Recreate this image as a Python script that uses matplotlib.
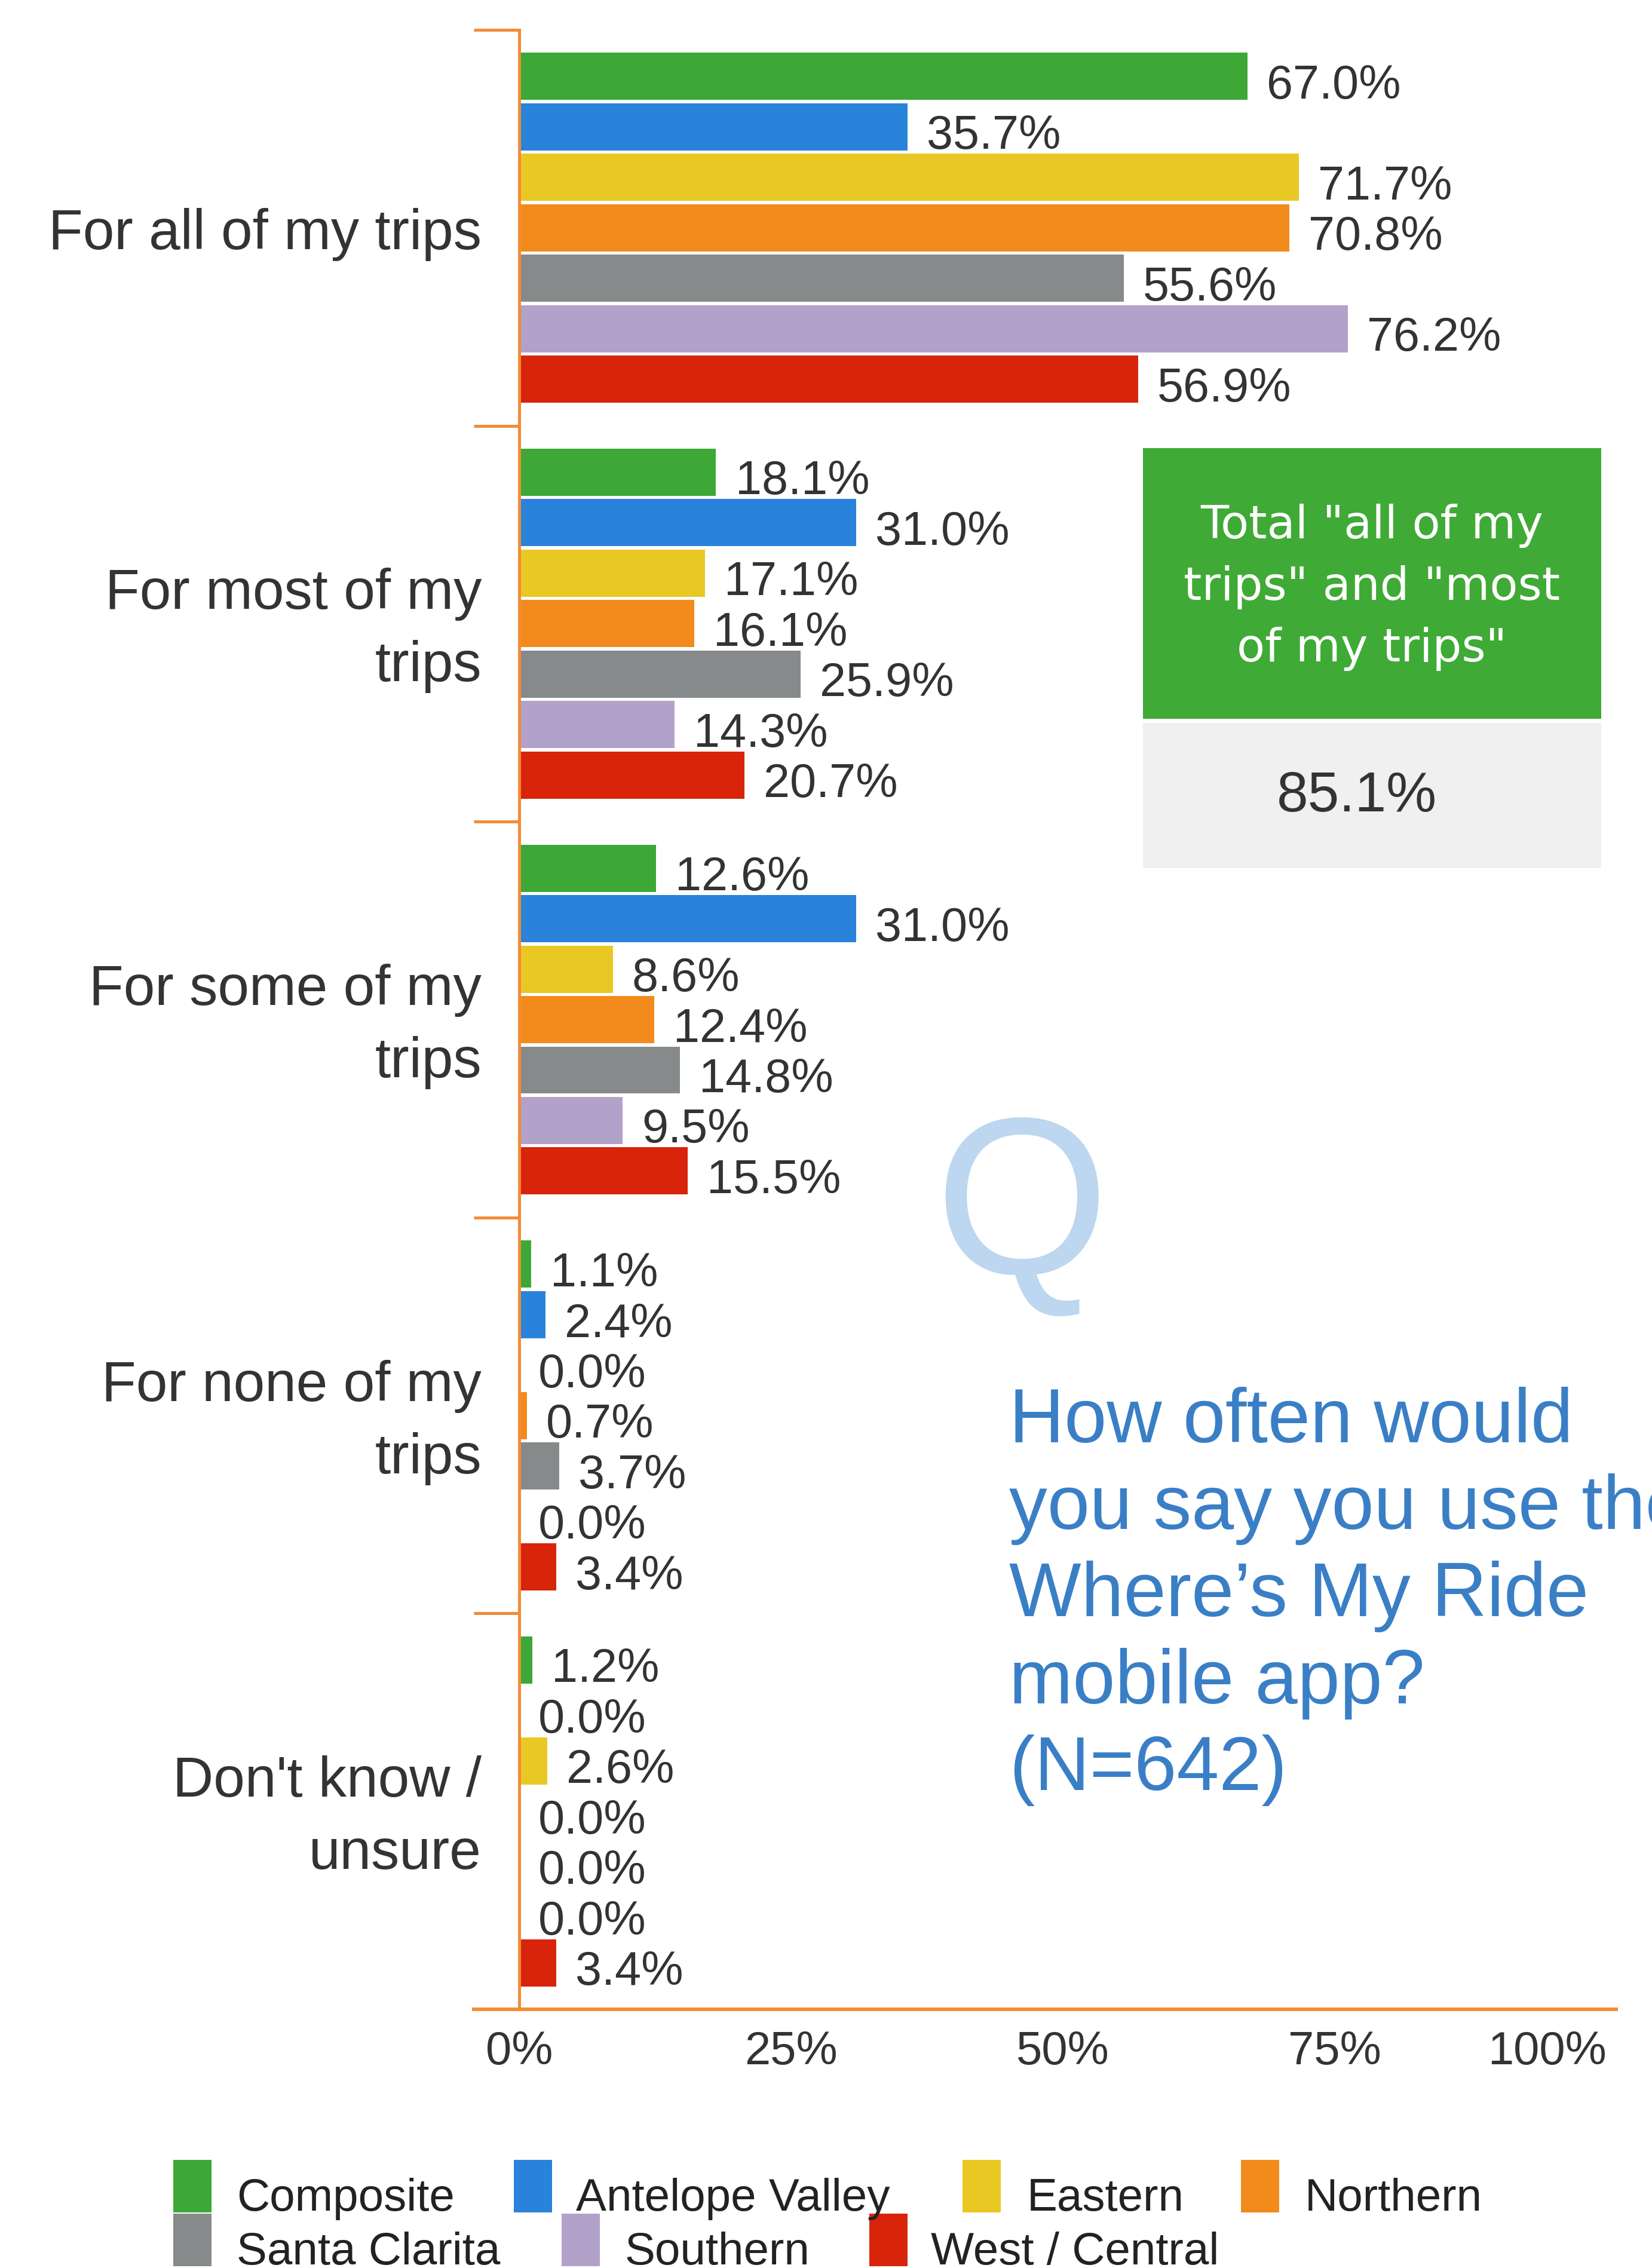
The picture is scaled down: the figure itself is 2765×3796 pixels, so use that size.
import matplotlib
matplotlib.use("Agg")
import matplotlib.pyplot as plt
from matplotlib.patches import Rectangle
import numpy as np

plt.rcParams['font.family'] = ['Liberation Sans', 'DejaVu Sans']

# ---- data -------------------------------------------------------------
categories = [
    ["For all of my trips"],
    ["For most of my", "trips"],
    ["For some of my", "trips"],
    ["For none of my", "trips"],
    ["Don't know /", "unsure"],
]
series_names = ["Composite", "Antelope Valley", "Eastern", "Northern",
                "Santa Clarita", "Southern", "West / Central"]
composite = [67.0, 18.1, 12.6, 1.1, 1.2]
antelope_valley = [35.7, 31.0, 31.0, 2.4, 0.0]
eastern = [71.7, 17.1, 8.6, 0.0, 2.6]
northern = [70.8, 16.1, 12.4, 0.7, 0.0]
santa_clarita = [55.6, 25.9, 14.8, 3.7, 0.0]
southern = [76.2, 14.3, 9.5, 0.0, 0.0]
west_central = [56.9, 20.7, 15.5, 3.4, 3.4]
series_values = [composite, antelope_valley, eastern, northern,
                 santa_clarita, southern, west_central]
x_ticks = [0, 25, 50, 75, 100]
x_tick_labels = ["0%", "25%", "50%", "75%", "100%"]
total_label = ['Total "all of my', 'trips" and "most', 'of my trips"']
total_value = "85.1%"
question_lines = ["How often would", "you say you use the",
                  "Where\u2019s My Ride", "mobile app?", "(N=642)"]

# ---- styling ----------------------------------------------------------
colors = ["#3ea836", "#2a83da", "#e9c823", "#f28b1c",
          "#878a8b", "#b2a2c9", "#d8240a"]
axis_color = "#f28c38"
text_color = "#333333"

W, H = 2765, 3796
fig = plt.figure(figsize=(W / 100, H / 100), dpi=100)


def fx(px):
    return px / W


def fy(py):
    return 1 - py / H


ax = fig.add_axes([fx(793), fy(3363), (2705 - 793) / W, (3363 - 50) / H])
ax.set_xlim(-4.18, 100.88)
ax.set_ylim(4.5, -0.5)

band_px = (3363 - 50) / 5.0
pitch = 84.5 / band_px
bar_h = 79.0 / band_px
y = np.arange(len(categories))

for j, (vals, col) in enumerate(zip(series_values, colors)):
    pos = y + (j - 3) * pitch
    ax.barh(pos, vals, height=bar_h, color=col, left=0, zorder=1)
    for yy, v in zip(pos, vals):
        ax.text(v + 1.76, yy + 37.0 / band_px, f"{v:.1f}%",
                ha="left", va="baseline", fontsize=57, color=text_color)

# category labels to the left of the axis
for i, lines in enumerate(categories):
    n = len(lines)
    for k, line in enumerate(lines):
        off = (k - (n - 1) / 2) * 121.0 + 36.0
        ax.text(-3.46, i + off / band_px, line, ha="right", va="baseline",
                fontsize=68, color=text_color)

# axis styling
for s in ["top", "right"]:
    ax.spines[s].set_visible(False)
ax.spines["left"].set_position(("data", 0))
ax.spines["left"].set_color(axis_color)
ax.spines["left"].set_linewidth(3.6)
ax.spines["bottom"].set_color(axis_color)
ax.spines["bottom"].set_linewidth(4.3)
ax.set_yticks(np.arange(-0.5, len(categories), 1.0))
ax.set_yticklabels([])
ax.tick_params(axis="y", direction="out", length=55, width=3.6,
               color=axis_color)
ax.set_xticks(x_ticks)
ax.set_xticklabels(x_tick_labels)
ax.tick_params(axis="x", length=0, pad=25, labelsize=56, labelcolor=text_color)
ax.get_xticklabels()[-1].set_ha("right")

# summary box
fig.add_artist(Rectangle((fx(1913), fy(1203)), (2680 - 1913) / W, (1203 - 750) / H,
                         transform=fig.transFigure, color="#3faa35", lw=0))
fig.add_artist(Rectangle((fx(1913), fy(1453)), (2680 - 1913) / W, (1453 - 1210) / H,
                         transform=fig.transFigure, color="#f0f0f0", lw=0))
for k, line in enumerate(total_label):
    fig.text(fx(2296), fy(881 + k * 103 + 20), line, ha="center", va="baseline",
             fontsize=55.5, color="white", family="DejaVu Sans")
fig.text(fx(2271), fy(1358), total_value, ha="center", va="baseline",
         fontsize=68, color=text_color)

# question block
fig.text(fx(1710), fy(2132), "Q", ha="center", va="baseline",
         fontsize=270, color="#bcd7ef")
for k, line in enumerate(question_lines):
    fig.text(fx(1689), fy(2414 + k * 145.5), line, ha="left", va="baseline",
             fontsize=92, color="#3a7fc6")

# legend
legend_pos = [(290, 396, 0), (860, 964, 0), (1611, 1719, 0), (2077, 2184, 0),
              (290, 396, 1), (940, 1046, 1), (1455, 1558, 1)]
for name, col, (mx, tx, row) in zip(series_names, colors, legend_pos):
    top = 3615 + row * 90
    fig.add_artist(Rectangle((fx(mx), fy(top + 88)), 64 / W, 88 / H,
                             transform=fig.transFigure, color=col, lw=0))
    fig.text(fx(tx), fy(3700 + row * 90), name, ha="left", va="baseline",
             fontsize=55, color="#222222")

fig.savefig("out.png", dpi=100)
